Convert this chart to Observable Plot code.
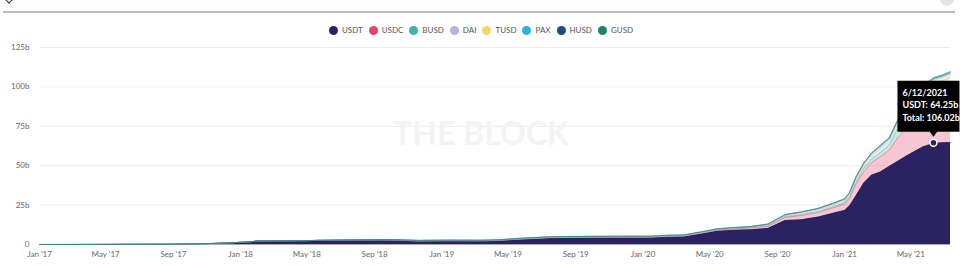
<!DOCTYPE html>
<html><head><meta charset="utf-8">
<script src="https://cdn.jsdelivr.net/npm/d3@7"></script>
<script src="https://cdn.jsdelivr.net/npm/@observablehq/plot@0.6"></script>
<style>
body{margin:0;background:#fff;font-family:Lato,"Open Sans",sans-serif;width:960px;height:266px;overflow:hidden;position:relative}
#top{height:20px;position:relative}
#line{position:absolute;left:3px;right:5px;top:11px;height:2px;background:#c6b4cb}
#chev{position:absolute;left:5px;top:-6px;width:7px;height:7px;border-right:1.5px solid #333;border-bottom:1.5px solid #333;transform:rotate(45deg)}
#circ{position:absolute;left:940px;top:-8px;width:14px;height:14px;border-radius:50%;background:#e4e4e4}
#legend{height:20px;display:flex;justify-content:center;align-items:center;font-size:8px;color:#555;padding-left:2px}
.item{display:flex;align-items:center;margin:0 3px}
.sw{width:9px;height:9px;border-radius:50%;margin-right:4px}
#chart svg{display:block}
</style></head><body>
<div id="top"><div id="chev"></div><div id="circ"></div><div id="line"></div></div>
<div id="legend"></div>
<div id="chart"></div>
<script>
const dates = ["2017-01-01","2017-04-01","2017-07-01","2017-09-01","2017-10-15","2017-11-15","2017-12-15",
"2018-01-15","2018-02-01","2018-03-15","2018-05-01","2018-05-20","2018-07-01","2018-09-15","2018-10-20","2018-11-20",
"2019-01-15","2019-03-15","2019-04-15","2019-05-15","2019-06-15","2019-07-15","2019-08-15","2019-10-01","2019-12-01",
"2020-01-15","2020-02-15","2020-03-15","2020-04-15","2020-05-15","2020-06-15","2020-07-15","2020-08-15","2020-09-15","2020-10-15","2020-11-15","2020-12-15",
"2021-01-01","2021-01-10","2021-01-21","2021-02-05","2021-02-19","2021-03-07","2021-03-23","2021-04-07","2021-04-22","2021-05-08","2021-05-23","2021-06-12","2021-06-27","2021-07-12"];
const USDT = [0.01,0.05,0.1,0.2,0.4,0.7,1.1,
1.6,2.2,2.3,2.4,2.6,2.7,2.8,2.5,1.9,
2.0,2.0,2.3,2.9,3.3,3.8,4.0,4.1,4.1,
4.1,4.6,4.7,6.5,8.4,9.1,9.4,10.2,15.2,15.7,17.5,20.2,
21.6,24.5,30.5,39,44,46,49.5,52.6,55.8,59,61.8,64.25,64.5,64.7];
const USDC = [0,0,0,0,0,0,0,
0,0,0,0,0,0,0.05,0.15,0.25,
0.35,0.25,0.25,0.35,0.45,0.5,0.5,0.5,0.5,
0.5,0.55,0.6,0.75,0.8,0.9,1.1,1.3,2.0,2.7,2.9,3.5,
4.0,4.8,7.5,7.4,8.0,9.7,10.4,15.0,17.8,21.4,22.4,24.0,25.0,26.3];
const BUSD = [0,0,0,0,0,0,0,
0,0,0,0,0,0,0,0,0,
0,0,0,0,0,0,0,0.02,0.1,
0.15,0.15,0.15,0.15,0.2,0.2,0.2,0.3,0.4,0.6,0.6,0.8,
1.0,1.2,1.5,2.1,2.3,2.7,3.2,6.0,7.5,8.6,9.1,9.6,9.8,10.2];
const DAI = [0,0,0,0,0,0,0,
0,0,0,0,0,0.01,0.05,0.07,0.07,
0.08,0.09,0.09,0.09,0.09,0.08,0.08,0.08,0.08,
0.1,0.1,0.12,0.12,0.12,0.12,0.15,0.4,0.5,0.8,1.0,1.1,
1.2,1.4,1.7,2.0,2.3,2.8,2.9,3.0,3.8,4.3,4.5,4.7,4.8,5.0];
const TUSD = [0,0,0,0,0,0,0,
0.02,0.03,0.03,0.05,0.06,0.08,0.1,0.15,0.2,
0.2,0.2,0.2,0.2,0.2,0.2,0.2,0.2,0.2,
0.15,0.15,0.15,0.15,0.15,0.15,0.2,0.3,0.35,0.4,0.45,0.45,
0.5,0.5,0.5,0.5,0.6,0.6,0.7,0.9,1.0,1.1,1.2,1.35,1.4,1.4];
const PAX = [0,0,0,0,0,0,0,
0,0,0,0,0,0,0.05,0.1,0.15,
0.15,0.15,0.15,0.2,0.25,0.25,0.25,0.25,0.25,
0.25,0.25,0.25,0.25,0.25,0.25,0.25,0.3,0.35,0.35,0.35,0.35,
0.4,0.4,0.45,0.5,0.5,0.5,0.5,0.6,0.6,0.7,0.8,0.9,0.9,0.95];
const HUSD = [0,0,0,0,0,0,0,
0,0,0,0,0,0,0,0,0,
0,0,0,0,0,0,0,0,0.02,
0.05,0.05,0.05,0.05,0.05,0.08,0.1,0.15,0.15,0.15,0.2,0.25,
0.25,0.25,0.3,0.3,0.3,0.4,0.4,0.5,0.5,0.5,0.6,0.65,0.65,0.65];
const GUSD = [0,0,0,0,0,0,0,
0,0,0,0,0,0,0.01,0.03,0.05,
0.08,0.08,0.08,0.08,0.08,0.08,0.08,0.07,0.05,
0.01,0.01,0.01,0.01,0.01,0.01,0.01,0.02,0.02,0.02,0.03,0.03,
0.05,0.05,0.05,0.05,0.1,0.2,0.2,0.3,0.3,0.4,0.5,0.57,0.5,0.5];

const seriesNames = ["USDT","USDC","BUSD","DAI","TUSD","PAX","HUSD","GUSD"];
const seriesValues = [USDT,USDC,BUSD,DAI,TUSD,PAX,HUSD,GUSD];
const seriesColors = ["#2b2262","#e0476b","#3db5a6","#b7b2dc","#f7d46a","#2bb3e8","#19507d","#1f806c"];
const yTicks = [0,25,50,75,100,125];
const xTicks = ["2017-01-01","2017-05-01","2017-09-01","2018-01-01","2018-05-01","2018-09-01","2019-01-01","2019-05-01","2019-09-01","2020-01-01","2020-05-01","2020-09-01","2021-01-01","2021-05-01"];
const tipDate = "2021-06-12";
const tipLines = ["6/12/2021","USDT: 64.25b","Total: 106.02b"];
const watermark = "THE BLOCK";

// legend
const lg = document.getElementById("legend");
seriesNames.forEach((n,i)=>{
  const it = document.createElement("div"); it.className="item";
  const sw = document.createElement("div"); sw.className="sw"; sw.style.background=seriesColors[i];
  const tx = document.createElement("span"); tx.textContent=n;
  it.appendChild(sw); it.appendChild(tx); lg.appendChild(it);
});

const long = [];
seriesNames.forEach((s,si)=>{
  dates.forEach((d,i)=>long.push({date:new Date(d), series:s, value:seriesValues[si][i]}));
});

const plot = Plot.plot({
  width:960, height:226,
  marginTop:7, marginBottom:22, marginLeft:39, marginRight:10,
  x:{type:"utc", domain:[new Date(dates[0]), new Date(dates[dates.length-1])], ticks:xTicks.map(d=>new Date(d)), tickFormat:d3.utcFormat("%b '%y"), tickSize:0, tickPadding:7, label:null},
  y:{domain:[0,125], ticks:yTicks, tickFormat:d=>d===0?"0":d+"b", tickSize:0, tickPadding:10, label:null},
  color:{domain:seriesNames, range:seriesColors},
  style:{fontFamily:"Lato, 'Open Sans', sans-serif", fontSize:"8px", color:"#666", background:"transparent", overflow:"visible"},
  marks:[
    Plot.gridY(yTicks,{stroke:"#ececec", strokeOpacity:1}),
    Plot.text([watermark],{frameAnchor:"middle", text:d=>d, dx:-14, dy:-11, fontSize:32, fontWeight:"bold", fill:"#f3f3f3"}),
    Plot.ruleY([0],{stroke:"#aaa"}),
    Plot.areaY(long,{x:"date", y:"value", fill:"series", fillOpacity:d=>d.series==="USDT"?1:0.3, order:seriesNames}),
    Plot.lineY(long, Plot.stackY2({x:"date", y:"value", z:"series", stroke:"series", strokeOpacity:0.45, strokeWidth:1, order:seriesNames}))
  ]
});
document.getElementById("chart").appendChild(plot);

// tooltip overlay positioned via Plot's scales
const xs = plot.scale("x"), ys = plot.scale("y");
const ti = dates.indexOf(tipDate);
const px = xs.apply(new Date(tipDate)), py = ys.apply(USDT[ti]);
const g = d3.select(plot).append("g").attr("text-anchor","start");
g.append("rect").attr("x",px-36).attr("y",py-62).attr("width",62).attr("height",51).attr("fill","#000");
g.append("path").attr("d",`M${px-4},${py-11.5}L${px+4},${py-11.5}L${px},${py-6}Z`).attr("fill","#000");
tipLines.forEach((t,i)=>{
  g.append("text").attr("x",px-31).attr("y",py-50+i*12.5).attr("dy","0.35em").attr("fill","#fff")
   .attr("text-anchor","start").attr("font-size","9px").attr("font-weight","bold").attr("font-family","Lato, sans-serif").text(t);
});
g.append("circle").attr("cx",px).attr("cy",py).attr("r",3.5).attr("fill","#2b2262").attr("stroke","#fff").attr("stroke-width",1.5);
</script>
</body></html>
